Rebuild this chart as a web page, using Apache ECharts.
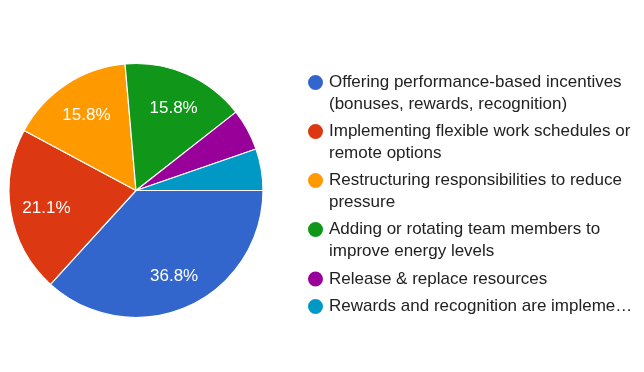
<!DOCTYPE html>
<html>
<head>
<meta charset="utf-8">
<script src="https://cdn.jsdelivr.net/npm/echarts@6/dist/echarts.min.js"></script>
<style>
html,body{margin:0;padding:0;background:#fff;}
#chart{width:644px;height:372px;}
</style>
</head>
<body>
<div id="chart"></div>
<script>
const categories = [
  'Offering performance-based incentives (bonuses, rewards, recognition)',
  'Implementing flexible work schedules or remote options',
  'Restructuring responsibilities to reduce pressure',
  'Adding or rotating team members to improve energy levels',
  'Release & replace resources',
  'Rewards and recognition are impleme…'
];
const legendLabels = [
  'Offering performance-based incentives\n(bonuses, rewards, recognition)',
  'Implementing flexible work schedules or\nremote options',
  'Restructuring responsibilities to reduce\npressure',
  'Adding or rotating team members to\nimprove energy levels',
  'Release & replace resources',
  'Rewards and recognition are impleme…'
];
const percentValues = [36.8, 21.1, 15.8, 15.8, 5.3, 5.3];
const colors = ['#3366CC', '#DC3912', '#FF9900', '#109618', '#990099', '#0099C6'];

const FONT = "'Liberation Sans', Arial, sans-serif";
const LH = 21.5;
const cx = 136, cy = 190.5, R = 127;
const iconCenters = [82.5, 131.5, 180.5, 229.5, 279, 306.5];

const pieData = categories.map((c, i) => ({ name: c, value: percentValues[i] }));

const legends = categories.map((c, i) => {
  const lines = legendLabels[i].split('\n').length;
  const boxHalf = lines > 1 ? 1.5 * LH : LH / 2;
  return {
    show: true,
    orient: 'vertical',
    left: 306,
    top: iconCenters[i] - boxHalf,
    padding: 0,
    itemWidth: 17,
    itemHeight: 17,
    icon: 'circle',
    selectedMode: false,
    data: [c],
    formatter: name => {
      const lbl = legendLabels[categories.indexOf(name)];
      return lbl.indexOf('\n') >= 0 ? '\n' + lbl : lbl;
    },
    textStyle: { fontFamily: FONT, fontSize: 17, color: '#222222', lineHeight: LH }
  };
});

const chart = echarts.init(document.getElementById('chart'), null, { renderer: 'canvas' });
chart.setOption({
  animation: false,
  color: colors,
  legend: legends,
  series: [
    {
      type: 'pie',
      center: [cx, cy],
      radius: [0, R],
      startAngle: 0,
      clockwise: true,
      silent: true,
      avoidLabelOverlap: false,
      itemStyle: { borderColor: '#ffffff', borderWidth: 1.2 },
      label: { show: false },
      labelLine: { show: false },
      emphasis: { disabled: true },
      data: pieData
    },
    {
      type: 'pie',
      center: [cx, cy],
      radius: [R * 0.40, R],
      startAngle: 0,
      clockwise: true,
      silent: true,
      avoidLabelOverlap: false,
      itemStyle: { color: 'rgba(0,0,0,0)', borderWidth: 0 },
      label: {
        show: true,
        position: 'inside',
        color: '#ffffff',
        fontFamily: FONT,
        fontSize: 17,
        offset: [1, 2],
        formatter: p => (p.value >= 10 ? p.value.toFixed(1) + '%' : '')
      },
      labelLine: { show: false },
      emphasis: { disabled: true },
      data: pieData
    }
  ]
});
</script>
</body>
</html>
